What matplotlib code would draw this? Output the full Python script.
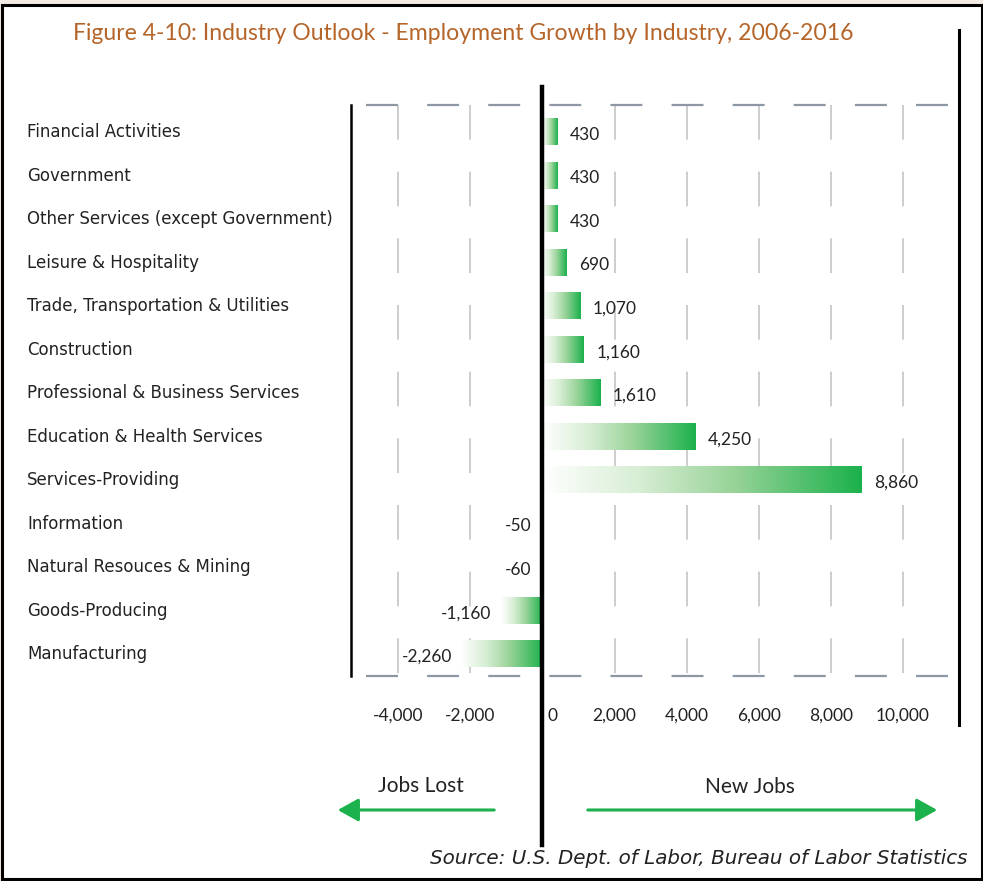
import numpy as np
import matplotlib
matplotlib.use("Agg")
import matplotlib.pyplot as plt
from matplotlib.colors import LinearSegmentedColormap
from matplotlib.patches import Rectangle, FancyArrowPatch
from matplotlib.transforms import blended_transform_factory, ScaledTranslation

plt.rcParams['lines.scale_dashes'] = False

industries = [
    "Financial Activities",
    "Government",
    "Other Services (except Government)",
    "Leisure & Hospitality",
    "Trade, Transportation & Utilities",
    "Construction",
    "Professional & Business Services",
    "Education & Health Services",
    "Services-Providing",
    "Information",
    "Natural Resouces & Mining",
    "Goods-Producing",
    "Manufacturing",
]
jobs = [430, 430, 430, 690, 1070, 1160, 1610, 4250, 8860, -50, -60, -1160, -2260]
xticks = [-4000, -2000, 0, 2000, 4000, 6000, 8000, 10000]

GREEN = "#1bb14c"
TITLE_BROWN = "#b5652a"
TEXT = "#222222"
NUM_FONT = "Lato"
LABEL_FONT = "DejaVu Sans"
W, H = 983, 881


def fx(px):
    return px / W


def fy(py):
    return (H - py) / H


fig = plt.figure(figsize=(W / 100, H / 100), dpi=100)
fig.patch.set_facecolor("#f3ebe3")
fig.patches.append(Rectangle((fx(1.5), fy(879)), fx(980), (876 - 2) / H,
                             transform=fig.transFigure, facecolor="white",
                             edgecolor="black", lw=2.2, zorder=-5))

ax = fig.add_axes([fx(351), fy(676), fx(948 - 351), (676 - 105) / H])
ax.set_facecolor("none")

cmap = LinearSegmentedColormap.from_list(
    "fade", [(0, "#ffffff"), (0.3, "#d8eed5"), (0.6, "#98d398"), (1, GREEN)])
grad = np.linspace(0, 1, 256).reshape(1, -1)

ypos = np.arange(len(industries))
bars = ax.barh(ypos, jobs, height=0.6, color="none", zorder=3)
for b, v in zip(bars, jobs):
    x0, x1 = b.get_x(), b.get_x() + b.get_width()
    left, right = min(x0, x1), max(x0, x1)
    y0, y1 = b.get_y(), b.get_y() + b.get_height()
    ax.imshow(grad, cmap=cmap, aspect="auto", extent=(left, right, y1, y0),
              interpolation="bilinear", zorder=3)

xlim = (-5310, 11250)
ylim = (12.5, -0.62)
ax.set_xlim(xlim)
ax.set_ylim(ylim)

# dashed grid, drawn top to bottom so the dash phase starts at the top
for t in xticks:
    if t == 0:
        continue
    ax.plot([t, t], [ylim[1], ylim[0]], color="#c9c9c9", lw=1.3,
            dashes=(25, 23), zorder=1)

# dashed top and bottom rules
for yy in ylim:
    ax.plot([-4904, xlim[1]], [yy, yy], color="#8e98a2", lw=1.6,
            dashes=(23, 21), zorder=2, clip_on=False)

# zero line reaching past the plot area
zt = blended_transform_factory(ax.transData, ax.transAxes)
ax.plot([0, 0], [1 + 18 / 571, -169 / 571], color="black", lw=3.2,
        transform=zt, clip_on=False, zorder=5)

for s in ["top", "right", "bottom"]:
    ax.spines[s].set_visible(False)
ax.spines["left"].set_color("black")
ax.spines["left"].set_linewidth(1.8)

ax.set_yticks([])
ax.set_xticks(xticks)
ax.set_xticklabels([f"{t:,}" for t in xticks], fontsize=12.5, family=NUM_FONT,
                   color=TEXT)
ax.tick_params(axis="x", length=0, pad=23)
for lab, t in zip(ax.get_xticklabels(), xticks):
    if t == 0:
        lab.set_ha("left")
        lab.set_transform(lab.get_transform() + ScaledTranslation(5 / 100, 0, fig.dpi_scale_trans))

# category names in the left margin
lt = blended_transform_factory(fig.transFigure, ax.transData)
for y, name in zip(ypos, industries):
    ax.text(fx(27), y, name, transform=lt, ha="left", va="center",
            fontsize=12, family=LABEL_FONT, color=TEXT)

# value labels
for b, v in zip(bars, jobs):
    yc = b.get_y() + b.get_height() / 2 + 0.06
    if v >= 0:
        ax.annotate(f"{v:,}", (v, yc), xytext=(12, 0), textcoords="offset pixels",
                    ha="left", va="center", fontsize=12.5, family=NUM_FONT,
                    color=TEXT, zorder=6)
    else:
        ax.annotate(f"{v:,}", (v, yc), xytext=(-9, 0), textcoords="offset pixels",
                    ha="right", va="center", fontsize=12.5, family=NUM_FONT,
                    color=TEXT, zorder=6)

fig.text(fx(463), fy(33), "Figure 4-10: Industry Outlook - Employment Growth by Industry, 2006-2016",
         ha="center", va="center", fontsize=16.6, family=NUM_FONT, color=TITLE_BROWN)

# right-hand rule
fig.add_artist(plt.Line2D([fx(959), fx(959)], [fy(30), fy(725)], color="black",
                          lw=2.2, transform=fig.transFigure))

# direction arrows
astyle = "-|>,head_length=0.9,head_width=0.5"
for start, end in [((fx(497), fy(810)), (fx(335), fy(810))),
                   ((fx(585), fy(810)), (fx(940), fy(810)))]:
    fig.add_artist(FancyArrowPatch(start, end, transform=fig.transFigure,
                                   arrowstyle=astyle, mutation_scale=14,
                                   color=GREEN, lw=2.2))
fig.text(fx(421), fy(786), "Jobs Lost", ha="center", va="center", fontsize=15,
         family=NUM_FONT, color=TEXT)
fig.text(fx(750), fy(787), "New Jobs", ha="center", va="center", fontsize=15,
         family=NUM_FONT, color=TEXT)

fig.text(fx(968), fy(858), "Source: U.S. Dept. of Labor, Bureau of Labor Statistics",
         ha="right", va="center", fontsize=14.3, family=LABEL_FONT, style="italic", color=TEXT)

fig.savefig("out.png", dpi=100, facecolor=fig.get_facecolor())
